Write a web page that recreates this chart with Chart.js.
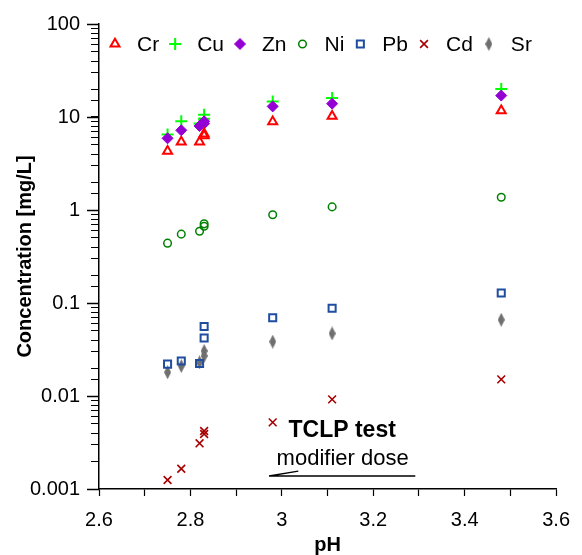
<!DOCTYPE html>
<html>
<head>
<meta charset="utf-8">
<script src="https://cdn.jsdelivr.net/npm/chart.js@4.4.1/dist/chart.umd.min.js"></script>
<style>
    body { margin: 0; background: #fff; }
</style>
</head>
<body>
<canvas id="myChart" width="582" height="555"></canvas>
<script>
// pH of each leachate sample
var pH = [2.75, 2.78, 2.82, 2.83, 2.83, 2.98, 3.11, 3.48];

// concentrations in mg/L
var crValues = [4.3, 5.4, 5.4, 6.6, 6.3, 8.9, 10.2, 11.7];
var cuValues = [6.5, 9.0, 8.5, 10.6, 9.6, 14.7, 16.0, 20.0];
var znValues = [5.9, 7.2, 8.0, 9.0, 8.5, 13.0, 13.9, 17.0];
var niValues = [0.44, 0.55, 0.59, 0.71, 0.67, 0.89, 1.08, 1.37];
var pbValues = [0.022, 0.0238, 0.0224, 0.056, 0.042, 0.0695, 0.088, 0.128];
var cdValues = [0.00125, 0.00165, 0.0031, 0.0042, 0.0039, 0.0052, 0.0092, 0.0151];
var srValues = [0.018, 0.021, 0.023, 0.0305, 0.027, 0.0384, 0.047, 0.066];

var xTickLabels = ["2.6", "2.8", "3", "3.2", "3.4", "3.6"];
var yTickLabels = ["0.001", "0.01", "0.1", "1", "10", "100"];

var noteTitle = "TCLP test";
var noteSub = "modifier dose";

function toPoints(ys) {
    return pH.map(function (x, i) { return { x: x, y: ys[i] }; });
}

// narrow grey diamond for Sr
var srMark = document.createElement("canvas");
srMark.width = 7;
srMark.height = 14;
var sctx = srMark.getContext("2d");
sctx.fillStyle = "#6f6f6f";
sctx.beginPath();
sctx.moveTo(3.5, 0);
sctx.lineTo(7, 7);
sctx.lineTo(3.5, 14);
sctx.lineTo(0, 7);
sctx.closePath();
sctx.fill();

var font = "Arial, 'Liberation Sans', sans-serif";

var extras = {
    id: "extras",
    afterDraw: function (chart) {
        var ctx = chart.ctx;
        var xs = chart.scales.x, ys = chart.scales.y;
        ctx.save();
        ctx.strokeStyle = "#000";
        // longer ticks on the decades
        ctx.lineWidth = 1.5;
        yTickLabels.forEach(function (t) {
            var py = Math.round(ys.getPixelForValue(Number(t))) + 0.5;
            ctx.beginPath();
            ctx.moveTo(xs.left - 12, py);
            ctx.lineTo(xs.left, py);
            ctx.stroke();
        });

        // legend in one row inside the plot
        ctx.font = "21px " + font;
        ctx.textAlign = "left";
        ctx.textBaseline = "middle";
        var lx = 115, ly = 44;
        chart.data.datasets.forEach(function (ds) {
            ctx.save();
            ctx.fillStyle = ds.backgroundColor;
            ctx.strokeStyle = ds.borderColor;
            ctx.lineWidth = ds.borderWidth;
            Chart.helpers.drawPoint(ctx, {
                pointStyle: ds.pointStyle, rotation: 0,
                radius: ds.radius, borderWidth: ds.borderWidth
            }, lx, ly);
            ctx.restore();
            ctx.fillStyle = "#000";
            ctx.fillText(ds.label, lx + 22, ly + 1);
            lx += 22 + ctx.measureText(ds.label).width + 16;
        });

        // TCLP note
        ctx.fillStyle = "#000";
        ctx.textAlign = "center";
        ctx.textBaseline = "middle";
        ctx.font = "bold 23px " + font;
        ctx.fillText(noteTitle, xs.getPixelForValue(3.132), ys.getPixelForValue(0.0042));
        ctx.font = "22px " + font;
        ctx.fillText(noteSub, xs.getPixelForValue(3.133), ys.getPixelForValue(0.0021));
        ctx.lineWidth = 1.3;
        ctx.beginPath();
        ctx.moveTo(xs.getPixelForValue(3.036), ys.getPixelForValue(0.00156));
        ctx.lineTo(xs.getPixelForValue(2.972), ys.getPixelForValue(0.00138));
        ctx.lineTo(xs.getPixelForValue(3.292), ys.getPixelForValue(0.00138));
        ctx.stroke();
        ctx.restore();
    }
};

new Chart("myChart", {
    type: "scatter",
    data: {
        datasets: [
            { label: "Cr", data: toPoints(crValues), pointStyle: "triangle", radius: 5.2, borderWidth: 2,
              borderColor: "#ff0000", backgroundColor: "rgba(0,0,0,0)", order: 1 },
            { label: "Cu", data: toPoints(cuValues), pointStyle: "cross", radius: 6, borderWidth: 2,
              borderColor: "#00ff00", backgroundColor: "#00ff00", order: 3 },
            { label: "Zn", data: toPoints(znValues), pointStyle: "rectRot", radius: 5.5, borderWidth: 1,
              borderColor: "#9400d3", backgroundColor: "#9400d3", order: 2 },
            { label: "Ni", data: toPoints(niValues), pointStyle: "circle", radius: 3.8, borderWidth: 1.5,
              borderColor: "#008000", backgroundColor: "rgba(0,0,0,0)", order: 4 },
            { label: "Pb", data: toPoints(pbValues), pointStyle: "rect", radius: 5, borderWidth: 2,
              borderColor: "#1f4ea0", backgroundColor: "rgba(0,0,0,0)", order: 5 },
            { label: "Cd", data: toPoints(cdValues), pointStyle: "crossRot", radius: 5.5, borderWidth: 1.6,
              borderColor: "#a80000", backgroundColor: "#a80000", order: 6 },
            { label: "Sr", data: toPoints(srValues), pointStyle: srMark, radius: 5, borderWidth: 0,
              borderColor: "#6f6f6f", backgroundColor: "#6f6f6f", order: 7 }
        ]
    },
    options: {
        responsive: false,
        animation: false,
        layout: { padding: { left: 0, right: 15, top: 24, bottom: 0 } },
        plugins: {
            legend: { display: false },
            tooltip: { enabled: false }
        },
        scales: {
            x: {
                type: "linear",
                min: 2.6,
                max: 3.6,
                afterFit: function (s) { s.height = 66; },
                border: { display: true, color: "#000", width: 1.5 },
                grid: { drawOnChartArea: false, tickLength: 7, tickColor: "#000", tickWidth: 1.2 },
                ticks: {
                    stepSize: 0.1,
                    padding: 12,
                    autoSkip: false,
                    maxRotation: 0,
                    color: "#000",
                    font: { family: font, size: 20 },
                    callback: function (v) {
                        var t = String(Number(Number(v).toFixed(1)));
                        return xTickLabels.indexOf(t) >= 0 ? t : "";
                    }
                },
                title: {
                    display: true,
                    text: "pH",
                    color: "#000",
                    font: { family: font, size: 20, weight: "bold" },
                    padding: { top: 0, bottom: -2 }
                }
            },
            y: {
                type: "logarithmic",
                min: 0.001,
                max: 100,
                afterFit: function (s) { s.width = 99; },
                border: { display: true, color: "#000", width: 1.5 },
                grid: { drawOnChartArea: false, tickLength: 8, tickColor: "#000", tickWidth: 1 },
                ticks: {
                    padding: 11,
                    autoSkip: false,
                    color: "#000",
                    font: { family: font, size: 20 },
                    callback: function (v) {
                        var e = Math.log10(v);
                        if (Math.abs(e - Math.round(e)) < 1e-6) {
                            return yTickLabels[Math.round(e) + 3];
                        }
                        return "";
                    }
                },
                title: {
                    display: true,
                    text: "Concentration [mg/L]",
                    color: "#000",
                    font: { family: font, size: 20, weight: "bold" },
                    padding: { top: 13, bottom: 0 }
                }
            }
        }
    },
    plugins: [extras]
});
</script>
</body>
</html>
